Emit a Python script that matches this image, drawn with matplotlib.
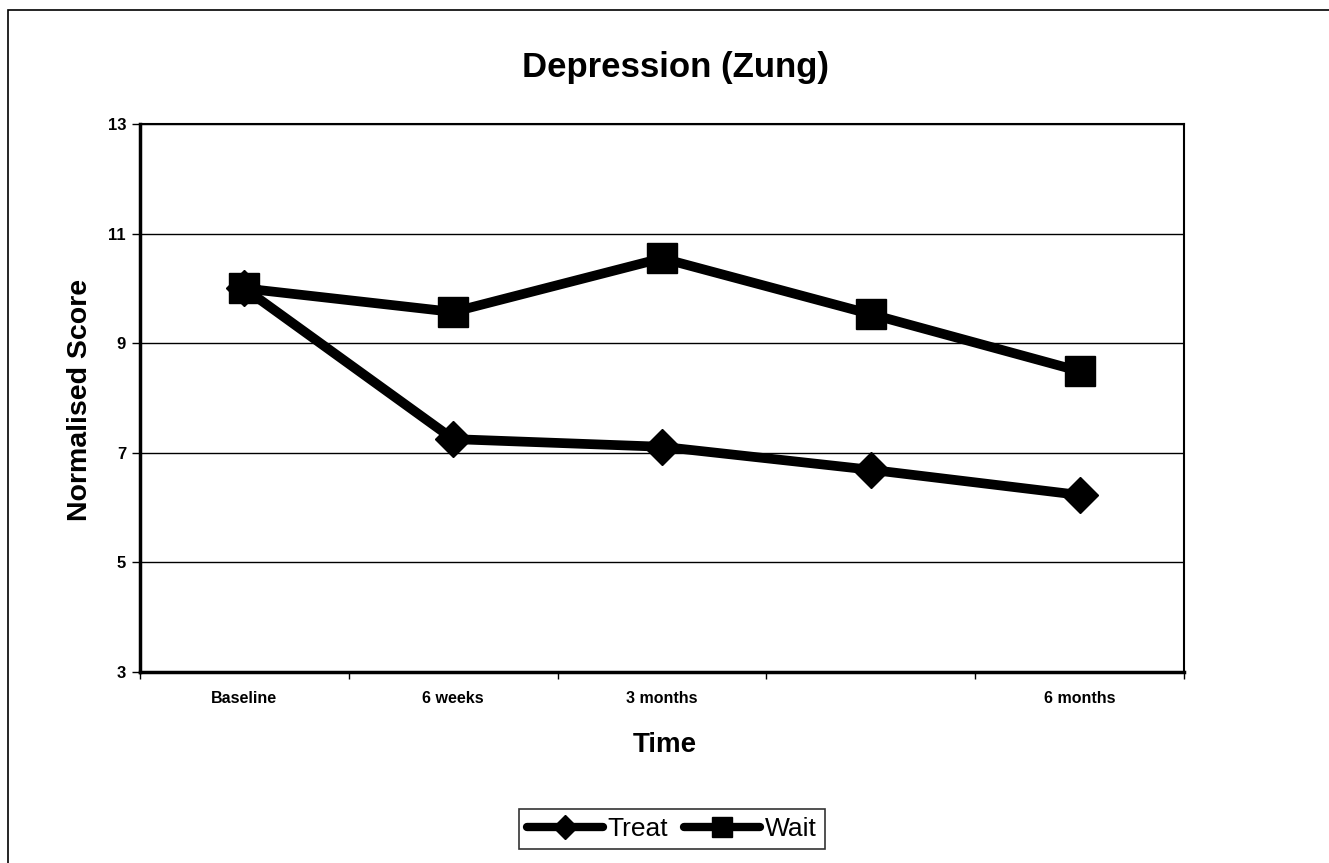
import matplotlib
matplotlib.use("Agg")
import matplotlib.pyplot as plt
from matplotlib.patches import Rectangle

categories = ["Baseline", "6 weeks", "3 months", "", "6 months"]
treat = [10.0, 7.25, 7.11, 6.69, 6.23]
wait = [10.0, 9.57, 10.55, 9.53, 8.49]
yticks = [3, 5, 7, 9, 11, 13]

plt.rcParams['font.family'] = ['Liberation Sans', 'DejaVu Sans']

W, H = 1329, 863
fig = plt.figure(figsize=(W / 100, H / 100), dpi=100)
fig.patch.set_facecolor("white")

# chart area border
fig.add_artist(Rectangle((8 / W, -0.01), 1.2, 1 - 10 / H + 0.01, transform=fig.transFigure,
                         fill=False, edgecolor="black", linewidth=1.2))

left, right, top, bottom = 140, 1184, 124, 672
ax = fig.add_axes([left / W, 1 - bottom / H, (right - left) / W, (bottom - top) / H])

x = list(range(len(categories)))
ax.plot(x, treat, color="black", linewidth=7, marker="D", markersize=18,
        label="Treat", solid_joinstyle="round", solid_capstyle="round", zorder=3)
ax.plot(x, wait, color="black", linewidth=7, marker="s", markersize=22,
        label="Wait", solid_joinstyle="round", solid_capstyle="round", zorder=3)

ax.set_xlim(-0.5, len(categories) - 0.5)
ax.set_ylim(3, 13)
ax.set_yticks(yticks)
ax.set_yticklabels([str(t) for t in yticks], fontsize=12, fontweight="bold")
ax.yaxis.grid(True, color="black", linewidth=1.0)
ax.set_axisbelow(True)

ax.set_xticks(x)
ax.set_xticklabels(categories, fontsize=11.5, fontweight="bold")
ax.tick_params(axis="x", length=0, pad=14)
ax.set_xticks([i - 0.5 for i in range(len(categories) + 1)], minor=True)
ax.tick_params(axis="x", which="minor", length=5, direction="out", width=1)
ax.tick_params(axis="y", length=6, width=1, direction="out", pad=4)

for s in ax.spines.values():
    s.set_linewidth(1.5)
    s.set_color("black")
ax.spines["left"].set_linewidth(2.5)
ax.spines["bottom"].set_linewidth(2.5)

fig.text(675 / W, 1 - 67 / H, "Depression (Zung)", fontsize=25, fontweight="bold",
         ha="center", va="center")
fig.text(80 / W, 1 - 400 / H, "Normalised Score", fontsize=20.5, fontweight="bold",
         ha="center", va="center", rotation=90)
fig.text(665 / W, 1 - 745 / H, "Time", fontsize=20, fontweight="bold",
         ha="center", va="center")

leg = fig.legend(loc="center", bbox_to_anchor=(672 / W, 1 - 829 / H), ncol=2,
                 fontsize=19, frameon=True, fancybox=False, edgecolor="black",
                 handlelength=2.85, handletextpad=0.2, columnspacing=0.6,
                 borderpad=0.3, borderaxespad=0, markerscale=0.66)
leg.get_frame().set_linewidth(1.2)
for h in leg.legend_handles:
    h.set_linewidth(6)

fig.savefig("out.png", dpi=100, facecolor="white")
